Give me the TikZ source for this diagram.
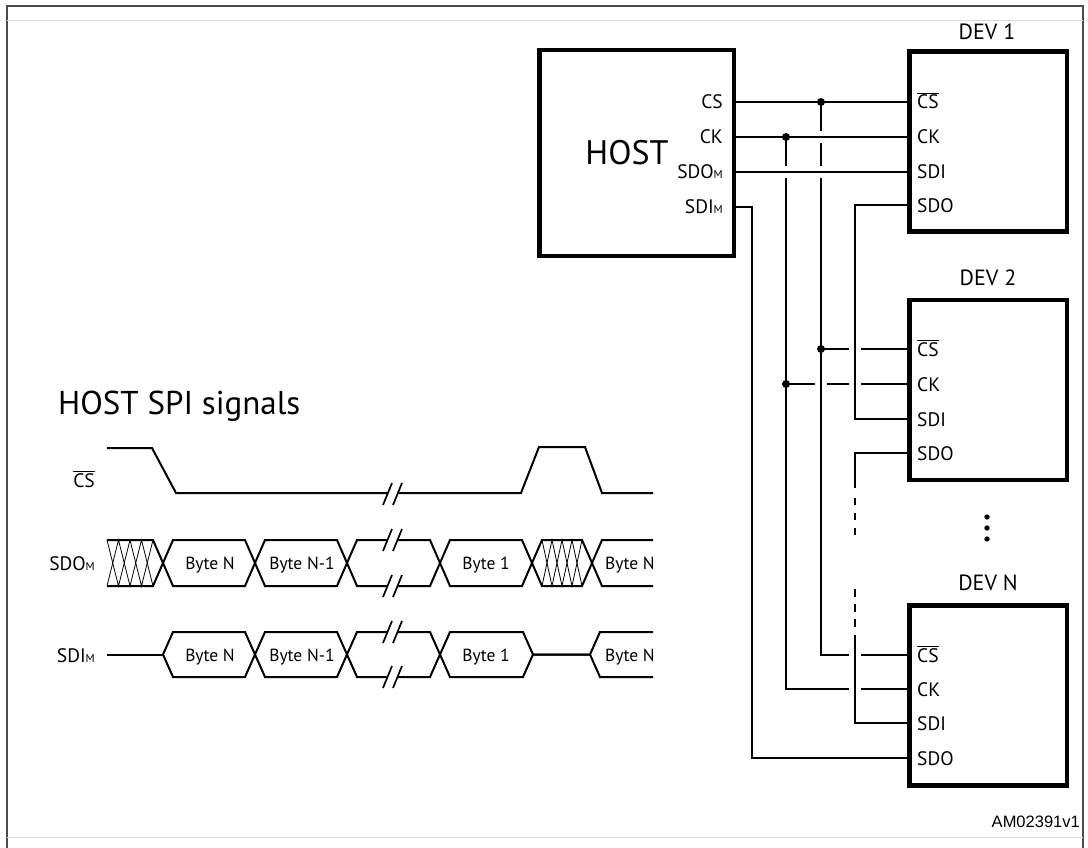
\documentclass[tikz,border=0pt]{standalone}
\usepackage{fontspec}
\setmainfont{PT Sans}
\newfontfamily\arialf{Liberation Sans}
\newcommand\ovl[1]{\leavevmode\vbox{\hrule height 0.9pt\kern 1.6pt\hbox{#1}}}
\newcommand\subm{{\fontsize{11.5}{11.5}\selectfont M}}
\begin{document}
\begin{tikzpicture}[x=1pt,y=-1pt,
  box/.style={draw, line width=4.5pt, minimum width=157.5pt, minimum height=180pt, inner sep=0pt},
  wire/.style={line width=2.6pt},
  wave/.style={line width=2pt, line join=miter},
  hatch/.style={line width=0.8pt},
  dot/.style={circle, fill, inner sep=0pt, minimum size=8pt},
  pinL/.style={font=\fontsize{19.5}{19.5}\selectfont, anchor=base west, inner sep=0pt},
  pinR/.style={font=\fontsize{19.5}{19.5}\selectfont, anchor=base east, inner sep=0pt},
  devlab/.style={font=\fontsize{22}{22}\selectfont, anchor=base, inner sep=0pt},
  bytelab/.style={font=\fontsize{17.5}{17.5}\selectfont, anchor=base, inner sep=0pt},
  brk/.pic={\draw[line width=1.7pt] (-9.5,11)--(-0.5,-11) (0.5,11)--(9.5,-11);}
]
\useasboundingbox (0,0) rectangle (1088,848);
\fill[white] (0,0) rectangle (1088,848);
% frame
\draw[black!70, line width=1.6pt] (7,848) -- (7,6) -- (1083,6) -- (1083,848);
\draw[black!15, line width=1pt] (7,21) -- (1083,21);
\draw[black!15, line width=1pt] (7,837) -- (1083,837);

% HOST
\node[draw, line width=4.5pt, minimum width=194.5pt, minimum height=205.5pt, inner sep=0pt] (host) at (636.5,153) {};
\node[font=\fontsize{34}{34}\selectfont, inner sep=0pt] (hostlab) at (627,153) {HOST};
\node[pinR] (lhcs) at (723,109) {CS};
\node[pinR] (lhck) at (723,144) {CK};
\node[pinR] (lhsdo) at (723,179) {SDO\subm};
\node[pinR] (lhsdi) at (723,214) {SDI\subm};

% devices
\node[box] (dev1) at (988,141.5) {};
\node[box] (dev2) at (988,390) {};
\node[box] (devn) at (988,695.5) {};
\node[devlab] (l1) at (987,39.5) {DEV 1};
\node[devlab] (l2) at (988,285.5) {DEV 2};
\node[devlab] (ln) at (988,590.5) {DEV N};

\foreach \n/\a/\b/\c/\d in {1/102/137/172/205, 2/349/384/419/453, n/655/689/723/758}{
  \node[pinL] (p\n cs) at (917,\a+7) {\ovl{CS}};
  \node[pinL] (p\n ck) at (917,\b+7) {CK};
  \node[pinL] (p\n sdi) at (917,\c+7) {SDI};
  \node[pinL] (p\n sdo) at (917,\d+7) {SDO};
}

% pin coordinates
\coordinate (hcs) at (734,102);
\coordinate (hck) at (734,137);
\coordinate (hsdo) at (734,172);
\coordinate (hsdi) at (734,207);
\coordinate (d1cs) at (909,102);
\coordinate (d1ck) at (909,137);
\coordinate (d1sdi) at (909,172);
\coordinate (d1sdo) at (909,205);
\coordinate (d2cs) at (909,349);
\coordinate (d2ck) at (909,384);
\coordinate (d2sdi) at (909,419);
\coordinate (d2sdo) at (909,453);
\coordinate (dncs) at (909,655);
\coordinate (dnck) at (909,689);
\coordinate (dnsdi) at (909,723);
\coordinate (dnsdo) at (909,758);
\coordinate (jcs1) at (821,102);
\coordinate (jck1) at (786,137);
\coordinate (jcs2) at (821,349);
\coordinate (jck2) at (786,384);
\coordinate (sdic) at (752,207);

% wires
\draw[wire] (hcs) -- (d1cs);
\draw[wire] (hck) -- (d1ck);
\draw[wire] (hsdo) -- (d1sdi);
\draw[wire] (hsdi) -- (sdic) |- (dnsdo);
\draw[wire] (jcs1) -- (821,131) (821,143) -- (821,166) (821,178) |- (849,655) (861,655) -- (dncs);
\draw[wire] (jck1) -- (786,166) (786,178) |- (849,689) (861,689) -- (dnck);
\draw[wire] (jcs2) -- (849,349) (861,349) -- (d2cs);
\draw[wire] (jck2) -- (815,384) (827,384) -- (849,384) (861,384) -- (d2ck);
\draw[wire] (d1sdo) -| (855,419) -- (d2sdi);
\draw[wire] (d2sdo) -| (855,488);
\draw[wire, dash pattern=on 7pt off 8pt] (855,498) -- (855,536);
\draw[wire, dash pattern=on 8pt off 7pt] (855,589) -- (855,628);
\draw[wire] (855,635) |- (dnsdi);
\node[dot] (dcs1) at (jcs1) {};
\node[dot] (dck1) at (jck1) {};
\node[dot] (dcs2) at (jcs2) {};
\node[dot] (dck2) at (jck2) {};
\foreach \yy in {517,528,539}{\fill (987,\yy) circle (2.7);}

% timing diagram
\node[font=\fontsize{33}{33}\selectfont, anchor=base west, inner sep=0pt] (title) at (58,414) {HOST SPI signals};
\node[pinR] (tcs) at (95,487) {\ovl{CS}};
\node[pinR] (tsdo) at (95,570) {SDO\subm};
\node[pinR] (tsdi) at (95,662) {SDI\subm};

% CS waveform
\draw[wave] (107,448) -- (152,448) -- (176,493) -- (387.5,493);
\draw[wave] (397.5,493) -- (521,493) -- (539,447) -- (585,447) -- (602,493) -- (653,493);
\pic at (392.5,494) {brk};

% SDO bus
\draw[wave] (107,540) -- (153,540) -- (173,586) -- (245,586) -- (265,540) -- (337,540) -- (357,586) -- (387.5,586);
\draw[wave] (397.5,586) -- (430,586) -- (450,540) -- (522,540) -- (542,586) -- (582,586) -- (602,540) -- (653,540);
\draw[wave] (107,586) -- (153,586) -- (173,540) -- (245,540) -- (265,586) -- (337,586) -- (357,540) -- (387.5,540);
\draw[wave] (397.5,540) -- (430,540) -- (450,586) -- (522,586) -- (542,540) -- (582,540) -- (602,586) -- (653,586);
\pic at (392.5,540) {brk};
\pic at (392.5,586) {brk};
\draw[hatch] (107,540) -- (118.5,586) -- (130,540) -- (141.5,586) -- (153,540);
\draw[hatch] (107,586) -- (118.5,540) -- (130,586) -- (141.5,540) -- (153,586);
\draw[hatch] (542,540) -- (552,586) -- (562,540) -- (572,586) -- (582,540);
\draw[hatch] (542,586) -- (552,540) -- (562,586) -- (572,540) -- (582,586);
\node[bytelab] (o1) at (210,569.5) {Byte N};
\node[bytelab] (o2) at (302,569.5) {Byte N-1};
\node[bytelab] (o3) at (486,569.5) {Byte 1};
\node[bytelab, anchor=base west] (o4) at (605,569.5) {Byte N};

% SDI bus
\draw[wave] (107,654.5) -- (163,654.5);
\draw[wave] (163,654.5) -- (173,632) -- (245,632) -- (265,677) -- (337,677) -- (357,632) -- (387.5,632);
\draw[wave] (397.5,632) -- (430,632) -- (450,677) -- (523,677) -- (533,654.5) -- (590,654.5) -- (600,632) -- (653,632);
\draw[wave] (163,654.5) -- (173,677) -- (245,677) -- (265,632) -- (337,632) -- (357,677) -- (387.5,677);
\draw[wave] (397.5,677) -- (430,677) -- (450,632) -- (523,632) -- (533,654.5) -- (590,654.5) -- (600,677) -- (653,677);
\pic at (392.5,632) {brk};
\pic at (392.5,677) {brk};
\node[bytelab] (i1) at (210,661) {Byte N};
\node[bytelab] (i2) at (302,661) {Byte N-1};
\node[bytelab] (i3) at (486,661) {Byte 1};
\node[bytelab, anchor=base west] (i4) at (605,661) {Byte N};

\node[font=\arialf\fontsize{16.5}{16.5}\selectfont, anchor=base east, inner sep=0pt] (ref) at (1080,827) {AM02391v1};
\end{tikzpicture}
\end{document}
